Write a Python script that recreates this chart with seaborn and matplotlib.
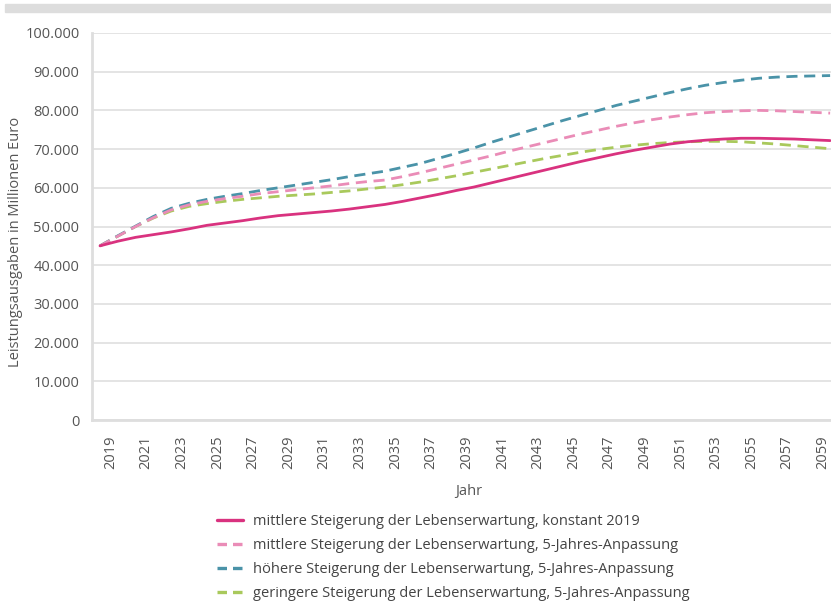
import matplotlib
matplotlib.use("Agg")
import matplotlib.pyplot as plt
import matplotlib.transforms as mtransforms
from matplotlib.lines import Line2D
from matplotlib.patches import Rectangle
from matplotlib.ticker import FuncFormatter, MultipleLocator
import numpy as np
import pandas as pd
import seaborn as sns

# Leistungsausgaben in Millionen Euro, 2019-2060
years = list(range(2019, 2061))

mittel_konstant = [
    45.0, 46.2, 47.2, 47.9, 48.6, 49.4, 50.3, 50.9, 51.5, 52.2,
    52.8, 53.2, 53.6, 54.0, 54.5, 55.1, 55.7, 56.5, 57.4, 58.3,
    59.3, 60.2, 61.3, 62.4, 63.5, 64.6, 65.7, 66.8, 67.8, 68.8,
    69.7, 70.5, 71.3, 71.9, 72.3, 72.6, 72.8, 72.8, 72.7, 72.6,
    72.4, 72.2,
]
mittel_5j = [
    45.0, 47.5, 50.0, 52.3, 54.3, 55.6, 56.5, 57.2, 57.8, 58.5,
    59.0, 59.5, 60.0, 60.5, 61.1, 61.6, 62.0, 62.9, 63.9, 65.0,
    66.1, 67.2, 68.3, 69.5, 70.6, 71.7, 72.8, 73.9, 74.9, 75.9,
    76.8, 77.6, 78.3, 78.9, 79.4, 79.7, 79.9, 80.0, 79.9, 79.7,
    79.5, 79.3,
]
hoeher_5j = [
    45.0, 47.6, 50.1, 52.6, 54.7, 56.0, 57.0, 57.8, 58.5, 59.3,
    60.0, 60.7, 61.4, 62.1, 62.9, 63.6, 64.3, 65.3, 66.3, 67.6,
    68.9, 70.3, 71.8, 73.2, 74.6, 76.0, 77.4, 78.7, 80.0, 81.3,
    82.4, 83.5, 84.6, 85.6, 86.5, 87.2, 87.8, 88.3, 88.6, 88.8,
    88.9, 89.0,
]
geringer_5j = [
    45.0, 47.5, 50.0, 52.2, 54.0, 55.2, 55.9, 56.5, 57.0, 57.4,
    57.8, 58.1, 58.4, 58.8, 59.2, 59.7, 60.2, 60.8, 61.5, 62.3,
    63.1, 64.0, 64.9, 65.8, 66.7, 67.6, 68.4, 69.2, 69.9, 70.5,
    71.0, 71.4, 71.7, 71.9, 72.0, 72.0, 71.9, 71.6, 71.3, 70.9,
    70.5, 70.1,
]

labels = [
    "mittlere Steigerung der Lebenserwartung, konstant 2019",
    "mittlere Steigerung der Lebenserwartung, 5-Jahres-Anpassung",
    "höhere Steigerung der Lebenserwartung, 5-Jahres-Anpassung",
    "geringere Steigerung der Lebenserwartung, 5-Jahres-Anpassung",
]
series = [mittel_konstant, mittel_5j, hoeher_5j, geringer_5j]
colors = ["#d9327f", "#ea8cb7", "#4a93a8", "#a9c95c"]
dash_styles = ["", (4, 2.4), (4, 2.4), (4, 2.4)]

frames = []
for name, vals in zip(labels, series):
    frames.append(pd.DataFrame({
        "Jahr": years,
        "Wert": np.array(vals) * 1000,
        "Szenario": name,
    }))
df = pd.concat(frames, ignore_index=True)

sns.set_theme(style="white")
plt.rcParams["font.family"] = ["Open Sans", "DejaVu Sans"]

text_color = "#555555"
grid_color = "#e4e4e4"

fig = plt.figure(figsize=(8.31, 6.02), dpi=100)
ax = fig.add_axes([92 / 831, 1 - 420 / 602, 739 / 831, 387 / 602])

# draw order: green, teal, pink dashed, then the solid line on top
order = [3, 2, 1, 0]
sns.lineplot(
    data=df, x="Jahr", y="Wert", hue="Szenario", style="Szenario",
    hue_order=[labels[i] for i in order],
    style_order=[labels[i] for i in order],
    palette={labels[i]: colors[i] for i in range(4)},
    dashes={labels[i]: dash_styles[i] for i in range(4)},
    linewidth=2.0, legend=False, ax=ax,
)

ax.set_xlim(2019 - 8 / 17.8, 2060 + 0.05)
ax.set_ylim(0, 100000)
ax.yaxis.set_major_locator(MultipleLocator(10000))
ax.yaxis.set_major_formatter(
    FuncFormatter(lambda v, p: f"{int(round(v)):,}".replace(",", "."))
)
ax.set_xticks(list(range(2019, 2060, 2)))
ax.set_xticklabels([str(y) for y in range(2019, 2060, 2)], rotation=90)

ax.grid(axis="y", color=grid_color, linewidth=1.4)
ax.grid(axis="x", visible=False)
ax.set_axisbelow(True)
for side in ["top", "right"]:
    ax.spines[side].set_visible(False)
for side in ["left", "bottom"]:
    ax.spines[side].set_color("#dedede")
    ax.spines[side].set_linewidth(2.0)

ax.tick_params(axis="both", length=0, labelsize=10.5, labelcolor=text_color)
ax.tick_params(axis="y", pad=9)
ax.tick_params(axis="x", pad=11)

# year labels sit slightly right of their tick positions
shift = mtransforms.ScaledTranslation(0.105, 0, fig.dpi_scale_trans)
for lab in ax.get_xticklabels():
    lab.set_transform(lab.get_transform() + shift)

ax.set_xlabel("Jahr", fontsize=10.5, color=text_color)
ax.set_ylabel("Leistungsausgaben in Millionen Euro", fontsize=10.5,
              color=text_color)
ax.yaxis.set_label_coords(-0.093, 0.46)
ax.xaxis.set_label_coords(0.51, -0.165)

# grey band across the top
fig.patches.append(Rectangle((5 / 831, 1 - 12 / 602), 1, 8 / 602,
                             transform=fig.transFigure, color="#dddddd",
                             zorder=0))

handles = [
    Line2D([], [], color=colors[i], linewidth=2.4,
           linestyle="-" if i == 0 else (0, (2.85, 1.8)))
    for i in range(4)
]
fig.legend(
    handles, labels, loc="upper left", bbox_to_anchor=(217 / 831, 1 - 514 / 602),
    frameon=False, fontsize=10.5, labelcolor="#444444",
    handlelength=1.75, handletextpad=0.7, labelspacing=0.62,
    borderpad=0, borderaxespad=0,
)

fig.savefig("out.png", dpi=100)
